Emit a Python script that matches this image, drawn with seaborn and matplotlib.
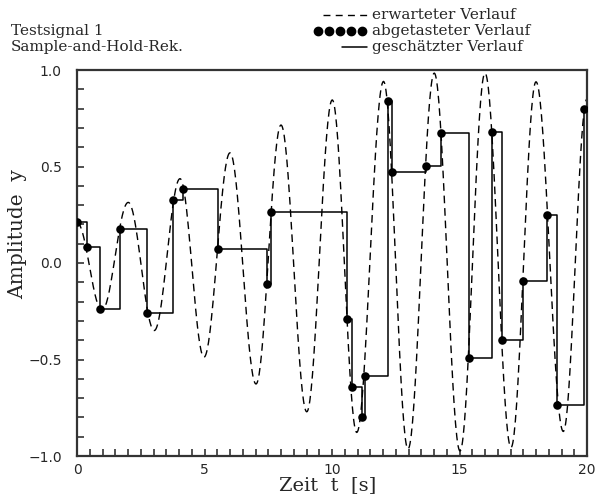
import numpy as np
import matplotlib
matplotlib.use("Agg")
import matplotlib.pyplot as plt
import seaborn as sns
from matplotlib.lines import Line2D
from matplotlib.ticker import MultipleLocator

# expected signal: extrema (time, amplitude)
ext_t = [0.0, 0.98, 2.01, 3.03, 4.04, 4.98, 6.0, 7.02, 8.0, 9.01, 10.01,
         10.97, 12.02, 12.98, 14.01, 15.02, 16.0, 17.02, 18.0, 19.07, 20.0]
ext_y = [0.21, -0.245, 0.314, -0.35, 0.437, -0.488, 0.571, -0.627, 0.715, -0.771, 0.845,
         -0.878, 0.941, -0.964, 0.984, -0.974, 0.984, -0.956, 0.939, -0.873, 0.85]

# sampled values
samp_t = [0.0, 0.38, 0.90, 1.69, 2.76, 3.78, 4.17, 5.54, 7.44, 7.61, 10.60, 10.78,
          11.16, 11.28, 12.18, 12.35, 13.69, 14.29, 15.36, 16.29, 16.65, 17.49,
          18.44, 18.84, 19.89]
samp_y = [0.21, 0.082, -0.236, 0.177, -0.257, 0.328, 0.385, 0.071, -0.109, 0.264,
          -0.292, -0.642, -0.80, -0.585, 0.84, 0.472, 0.505, 0.672, -0.49, 0.679,
          -0.397, -0.094, 0.248, -0.738, 0.80]

T_END = 20.0

legend_labels = ["erwarteter Verlauf", "abgetasteter Verlauf", "geschätzter Verlauf"]
title_lines = ["Testsignal 1", "Sample-and-Hold-Rek."]

# smooth half-wave shape between the read extrema
curve_t, curve_y = [], []
for i in range(len(ext_t) - 1):
    s = np.linspace(0, 1, 40, endpoint=False)
    curve_t.extend(ext_t[i] + s * (ext_t[i + 1] - ext_t[i]))
    curve_y.extend(ext_y[i + 1] + (ext_y[i] - ext_y[i + 1]) * (1 + np.cos(np.pi * s)) / 2)
curve_t.append(ext_t[-1])
curve_y.append(ext_y[-1])

# hold each sample until the next one
hold_t = samp_t + [T_END]
hold_y = samp_y + [samp_y[-1]]

sns.set_style("white")
plt.rcParams["font.family"] = ["DejaVu Serif", "DejaVu Sans"]

W, H = 596, 503
fig = plt.figure(figsize=(W / 100, H / 100), dpi=100)
ax = fig.add_axes([77 / W, 1 - 456 / H, 510 / W, 386 / H])

dash = (0, (5.5, 3.5))
sns.lineplot(x=curve_t, y=curve_y, ax=ax, color="black", linewidth=1.0,
             linestyle=dash, sort=False)
sns.lineplot(x=hold_t, y=hold_y, ax=ax, color="black", linewidth=1.1,
             drawstyle="steps-post", sort=False)
sns.scatterplot(x=samp_t, y=samp_y, ax=ax, color="black", s=38, edgecolor="black",
                linewidth=0, zorder=5)

ax.set_xlim(0, 20)
ax.set_ylim(-1.0, 1.0)
ax.xaxis.set_minor_locator(MultipleLocator(0.5))
ax.yaxis.set_minor_locator(MultipleLocator(0.1))
ax.set_xticks([0, 5, 10, 15, 20])
ax.set_xticklabels(["0", "5", "10", "15", "20"], family="DejaVu Sans")
ax.set_yticks([-1.0, -0.5, 0.0, 0.5, 1.0])
ax.set_yticklabels(["\u22121.0", "\u22120.5", "0.0", "0.5", "1.0"], family="DejaVu Sans")
ax.tick_params(which="both", direction="in", bottom=True, left=True, top=False, right=False,
               width=1.1, length=5, color="#222222", labelsize=10)
ax.tick_params(axis="y", pad=11)
ax.tick_params(axis="x", pad=5)
for sp in ax.spines.values():
    sp.set_color("#333333")
    sp.set_linewidth(1.6)

ax.set_xlabel("Zeit  t  [s]", fontsize=14)
ax.xaxis.set_label_coords(0.492, -0.052)
ax.set_ylabel("Amplitude  y", fontsize=14.5)
ax.yaxis.set_label_coords(-0.098, 0.576)

# title block at the top left
for line, base in zip(title_lines, [35, 51]):
    fig.text(11 / W, 1 - base / H, line, fontsize=11, va="baseline")

# legend block at the top right
fig.add_artist(Line2D([323 / W, 367 / W], [1 - 15 / H] * 2, transform=fig.transFigure,
                      color="black", linewidth=1.0, linestyle=(0, (5.0, 3.8))))
dot_x = np.linspace(318, 362, 5) / W
fig.add_artist(Line2D(dot_x, [1 - 31 / H] * 5, transform=fig.transFigure,
                      color="black", linestyle="none", marker="o", markersize=6))
fig.add_artist(Line2D([342 / W, 367 / W], [1 - 47 / H] * 2, transform=fig.transFigure,
                      color="black", linewidth=1.1))
for lab, base in zip(legend_labels, [19, 35, 51]):
    fig.text(372 / W, 1 - base / H, lab, fontsize=11, va="baseline")

fig.savefig("out.png", dpi=100)
